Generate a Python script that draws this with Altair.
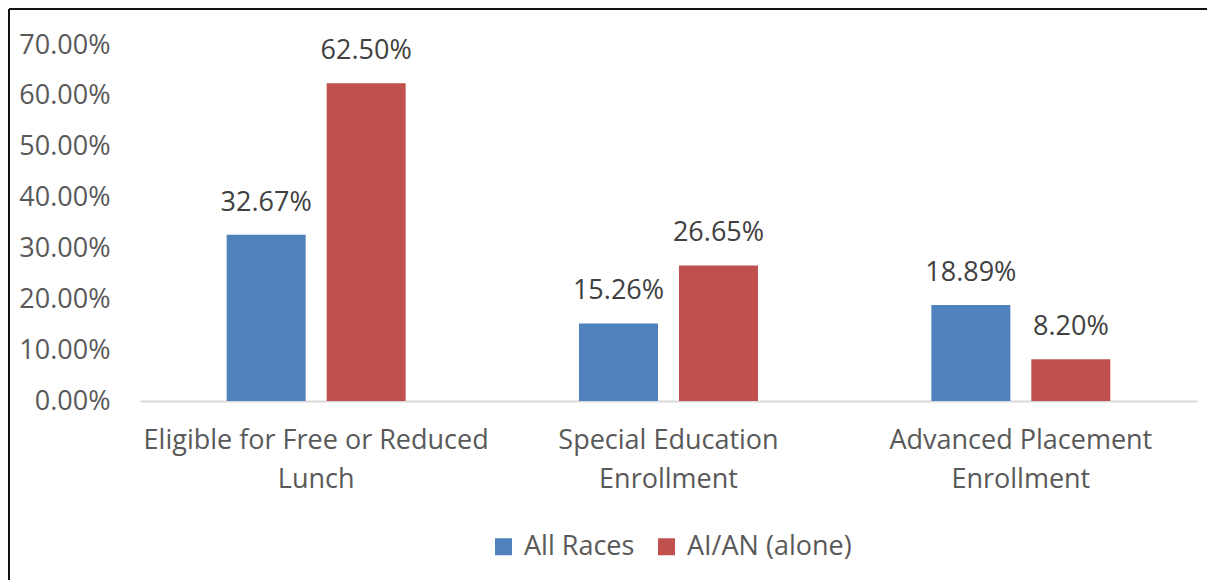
import altair as alt
import pandas as pd

categories = [
    "Eligible for Free or Reduced Lunch",
    "Special Education Enrollment",
    "Advanced Placement Enrollment",
]
label_lines = [
    ["Eligible for Free or Reduced", "Lunch"],
    ["Special Education", "Enrollment"],
    ["Advanced Placement", "Enrollment"],
]
series = ["All Races", "AI/AN (alone)"]
all_races = [0.3267, 0.1526, 0.1889]
aian_alone = [0.6250, 0.2665, 0.0820]
y_ticks = [0.0, 0.1, 0.2, 0.3, 0.4, 0.5, 0.6, 0.7]
colors = ["#4F81BD", "#C0504D"]

rows = []
for c, a, b in zip(categories, all_races, aian_alone):
    rows.append({"category": c, "series": series[0], "value": a})
    rows.append({"category": c, "series": series[1], "value": b})
df = pd.DataFrame(rows)

FONT = "Open Sans"
FS = 27

label_expr = " : ".join(
    f"datum.label == '{c}' ? {lines!r}" for c, lines in zip(categories, label_lines)
) + " : datum.label"

x = alt.X(
    "category:N",
    sort=categories,
    scale=alt.Scale(paddingInner=0.492, paddingOuter=0.246),
    axis=alt.Axis(
        title=None, labelAngle=0, ticks=False, domainColor="#D9D9D9", domainWidth=2,
        labelFont=FONT, labelFontSize=FS, labelColor="#595959", labelPadding=26,
        labelExpr=label_expr, labelLineHeight=39, labelLimit=600,
    ),
)
xo = alt.XOffset("series:N", sort=series, scale=alt.Scale(paddingInner=0.21, paddingOuter=0))
y = alt.Y(
    "value:Q",
    scale=alt.Scale(domain=[0, 0.7], nice=False),
    axis=alt.Axis(
        title=None, format=".2%", values=y_ticks, domain=False, ticks=False, grid=False,
        labelFont=FONT, labelFontSize=FS, labelColor="#595959", labelPadding=30,
    ),
)
color = alt.Color(
    "series:N",
    sort=series,
    scale=alt.Scale(domain=series, range=colors),
    legend=alt.Legend(
        title=None, orient="none", legendX=350, legendY=488, direction="horizontal",
        symbolType="square", symbolSize=289, symbolStrokeWidth=0, labelFont=FONT,
        labelFontSize=FS, labelColor="#595959", columnPadding=18, labelOffset=7,
        labelLimit=400,
    ),
)

base = alt.Chart(df).encode(x=x, xOffset=xo, y=y)
bars = base.mark_bar().encode(color=color)
labels = base.mark_text(
    dy=-24, baseline="alphabetic", font=FONT, fontSize=FS, color="#404040"
).encode(text=alt.Text("value:Q", format=".2%"))

one = pd.DataFrame({"a": [0]})
border_top = alt.Chart(one).mark_rule(color="#111111", strokeWidth=2).encode(
    x=alt.value(-131), x2=alt.value(1090), y=alt.value(-36)
)
border_left = alt.Chart(one).mark_rule(color="#111111", strokeWidth=2).encode(
    x=alt.value(-131), y=alt.value(-36), y2=alt.value(600)
)

chart = alt.layer(bars, labels, border_top, border_left).properties(
    width=1057,
    height=356,
    autosize=alt.AutoSizeParams(type="none"),
    padding={"left": 132, "top": 37, "right": 10, "bottom": 179},
).configure_view(stroke=None)

chart.save("out.html", embed_options={"renderer": "svg", "actions": False})
